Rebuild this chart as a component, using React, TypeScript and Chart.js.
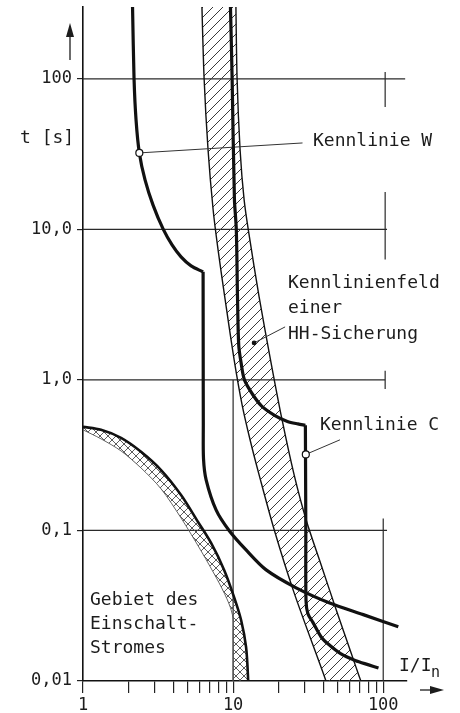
import React, { useEffect, useRef } from 'react';
import { Chart, registerables } from 'chart.js';

Chart.register(...registerables);

// ---- axes ----
const X_TICKS = [1, 2, 3, 4, 5, 6, 7, 8, 9, 10, 20, 30, 40, 50, 60, 70, 80, 90, 100];
const X_LABELLED = [1, 10, 100];
const Y_TICKS = [0.01, 0.1, 1, 10, 100];
const Y_TICK_LABELS = ['0,01', '0,1', '1,0', '10,0', '100'];
const X_MIN = 1;
const X_MAX = 144;
const Y_MIN = 0.01;
const Y_MAX = 300;

// ---- Kennlinie W ----
const W_UPPER_X = [2.12, 2.138, 2.188, 2.256, 2.373, 2.59, 2.929, 3.415, 3.92, 4.5, 5.25, 6.31];
const W_UPPER_T = [390, 300, 100, 53.4, 32.2, 21.3, 14.5, 10.08, 7.89, 6.57, 5.72, 5.22];
const W_LOWER_X = [6.31, 6.32, 6.33, 6.35, 6.61, 7.7, 9.4, 12.2, 16.6, 26.3, 43.6, 73.6, 126];
const W_LOWER_T = [5.22, 1.5, 0.5, 0.3, 0.217, 0.137, 0.1, 0.0742, 0.0547, 0.0416, 0.0331, 0.0276, 0.0229];
const W_MARK_X = [2.373];
const W_MARK_T = [32.2];
const W_LEADER_X = [2.373, 29];
const W_LEADER_T = [32.2, 37.5];

// ---- Kennlinie C ----
const C_UPPER_X = [9.5, 9.6, 9.85, 10.2, 10.5, 10.7, 10.9, 11.3, 11.9, 13.5, 15.5, 19, 23, 27, 30.3];
const C_UPPER_T = [400, 300, 100, 16, 10, 3.5, 1.7, 1.3, 1.0, 0.8, 0.67, 0.58, 0.53, 0.51, 0.5];
const C_LOWER_X = [30.3, 30.5, 30.6, 31.5, 34, 38.6, 43, 52, 65, 80, 93];
const C_LOWER_T = [0.5, 0.1, 0.034, 0.028, 0.0245, 0.0196, 0.0176, 0.0152, 0.0137, 0.0128, 0.0122];
const C_MARK_X = [30.5];
const C_MARK_T = [0.32];
const C_LEADER_X = [30.5, 51.5];
const C_LEADER_T = [0.32, 0.4];

// ---- Kennlinienfeld HH-Sicherung (band) ----
const BAND_LEFT_X = [6.15, 6.41, 6.81, 7.36, 7.94, 8.85, 10.16, 11.48, 12.98, 14.9, 18.8, 25.5, 39.8, 43.6];
const BAND_LEFT_T = [400, 100, 33.7, 13.5, 7.31, 3.41, 1.36, 0.683, 0.399, 0.234, 0.1007, 0.0385, 0.0113, 0.0087];
const BAND_RIGHT_X = [10.4, 10.63, 11.13, 11.84, 12.78, 14.9, 17.9, 21.2, 25.5, 30.7, 38.6, 48.6, 61.2, 69.2, 74.7];
const BAND_RIGHT_T = [400, 100, 33.7, 15.7, 9.19, 3.56, 1.3, 0.542, 0.234, 0.117, 0.059, 0.0297, 0.0153, 0.0107, 0.0087];
const HH_DOT_X = [13.8];
const HH_DOT_T = [1.76];
const HH_LEADER_X = [13.8, 22.2];
const HH_LEADER_T = [1.76, 2.25];

// ---- Gebiet des Einschaltstromes ----
const INRUSH_OUTER_X = [1, 1.318, 1.792, 2.436, 3.311, 4.5, 5.84, 7.13, 8.71, 10.15, 11.3, 12.2, 12.59, 12.6];
const INRUSH_OUTER_T = [0.488, 0.466, 0.412, 0.333, 0.252, 0.172, 0.1139, 0.0826, 0.0547, 0.0361, 0.0254, 0.0168, 0.0102, 0.0087];
const INRUSH_INNER_X = [1, 1.318, 1.792, 2.436, 3.311, 4.5, 6.12, 8.07, 9.4, 9.98, 10, 10, 10];
const INRUSH_INNER_T = [0.466, 0.406, 0.3375, 0.26, 0.189, 0.121, 0.0731, 0.0448, 0.0325, 0.0262, 0.0202, 0.0102, 0.0087];

const FONT = '"DejaVu Sans Mono", "Liberation Mono", monospace';
const INK = '#1c1c1c';

const pts = (xs: number[], ts: number[]) => xs.map((x, i) => ({ x, y: ts[i] }));

function makeHatch(ctx: CanvasRenderingContext2D, cross: boolean, color: string, size: number, lw: number) {
  const c = document.createElement('canvas');
  c.width = size;
  c.height = size;
  const g = c.getContext('2d')!;
  g.strokeStyle = color;
  g.lineWidth = lw;
  g.beginPath();
  g.moveTo(-1, size + 1);
  g.lineTo(size + 1, -1);
  g.moveTo(-2, 2);
  g.lineTo(2, -2);
  g.moveTo(size - 2, size + 2);
  g.lineTo(size + 2, size - 2);
  if (cross) {
    g.moveTo(-1, -1);
    g.lineTo(size + 1, size + 1);
    g.moveTo(size - 2, -2);
    g.lineTo(size + 2, 2);
    g.moveTo(-2, size - 2);
    g.lineTo(2, size + 2);
  }
  g.stroke();
  return ctx.createPattern(c, 'repeat')!;
}

const decor = {
  id: 'decor',
  beforeDatasetsDraw(chart: any) {
    const { ctx } = chart;
    const sx = chart.scales.x;
    const sy = chart.scales.y;
    const X = (v: number) => sx.getPixelForValue(v);
    const Y = (v: number) => sy.getPixelForValue(v);
    const seg = (x1: number, t1: number, x2: number, t2: number) => {
      ctx.beginPath();
      ctx.moveTo(X(x1), Y(t1));
      ctx.lineTo(X(x2), Y(t2));
      ctx.stroke();
    };
    ctx.save();
    ctx.strokeStyle = '#2a2a2a';
    ctx.lineWidth = 1.2;
    seg(1, 100, 140, 100);
    seg(1, 10, 106, 10);
    seg(1, 1, 103, 1);
    seg(1, 0.1, 106, 0.1);
    seg(10, 0.01, 10, 1);
    seg(100, 0.01, 100, 0.12);
    seg(103, 111, 103, 65);
    seg(103, 17.7, 103, 6.3);
    seg(103, 1.15, 103, 0.87);
    ctx.restore();
  },
  afterDraw(chart: any) {
    const { ctx } = chart;
    ctx.save();
    ctx.fillStyle = INK;
    ctx.strokeStyle = INK;
    ctx.textAlign = 'left';
    ctx.textBaseline = 'middle';
    ctx.font = `18px ${FONT}`;
    ctx.fillText('t [s]', 20, 138);
    ctx.fillText('Kennlinie W', 313, 141);
    ctx.fillText('Kennlinienfeld', 288, 283);
    ctx.fillText('einer', 288, 308);
    ctx.fillText('HH-Sicherung', 288, 334);
    ctx.fillText('Kennlinie C', 320, 425);
    ctx.fillText('Gebiet des', 90, 600);
    ctx.fillText('Einschalt-', 90, 624);
    ctx.fillText('Stromes', 90, 648);
    ctx.font = `18px ${FONT}`;
    ctx.fillText('I/I', 399, 666);
    ctx.font = `15px ${FONT}`;
    ctx.fillText('n', 431, 673);
    // arrows
    ctx.lineWidth = 1.3;
    ctx.beginPath();
    ctx.moveTo(70, 60);
    ctx.lineTo(70, 34);
    ctx.stroke();
    ctx.beginPath();
    ctx.moveTo(70, 23);
    ctx.lineTo(66, 37);
    ctx.lineTo(74, 37);
    ctx.closePath();
    ctx.fill();
    ctx.beginPath();
    ctx.moveTo(420, 690);
    ctx.lineTo(432, 690);
    ctx.stroke();
    ctx.beginPath();
    ctx.moveTo(444, 690);
    ctx.lineTo(430, 686);
    ctx.lineTo(430, 694);
    ctx.closePath();
    ctx.fill();
    ctx.restore();
  },
};

export default function App() {
  const ref = useRef<HTMLCanvasElement>(null);

  useEffect(() => {
    const canvas = ref.current!;
    const ctx = canvas.getContext('2d')!;
    const hatch = makeHatch(ctx, false, '#3a3a3a', 10, 1);
    const crossHatch = makeHatch(ctx, true, '#4a4a4a', 8, 0.9);

    const line = (data: any[], width: number, order: number, extra: any = {}) => ({
      data,
      borderColor: '#111',
      borderWidth: width,
      pointRadius: 0,
      pointHoverRadius: 0,
      fill: false,
      tension: 0.3,
      capBezierPoints: false,
      order,
      ...extra,
    });

    const bandPoly = [...pts(BAND_LEFT_X, BAND_LEFT_T), ...pts(BAND_RIGHT_X, BAND_RIGHT_T).reverse()];
    const inrushPoly = [...pts(INRUSH_OUTER_X, INRUSH_OUTER_T), ...pts(INRUSH_INNER_X, INRUSH_INNER_T).reverse()];

    const marker = (data: any[], r: number, bg: string) => ({
      data,
      showLine: false,
      pointRadius: r,
      pointHoverRadius: r,
      pointBackgroundColor: bg,
      pointBorderColor: '#111',
      pointBorderWidth: 1.2,
      order: 0,
    });

    const chart = new Chart(canvas, {
      type: 'line',
      data: {
        datasets: [
          marker(pts(W_MARK_X, W_MARK_T), 3.5, '#fff'),
          marker(pts(C_MARK_X, C_MARK_T), 3.5, '#fff'),
          marker(pts(HH_DOT_X, HH_DOT_T), 1.8, '#111'),
          line(pts(W_UPPER_X, W_UPPER_T), 3.2, 1),
          line(pts(W_LOWER_X, W_LOWER_T), 3.2, 1),
          line(pts(C_UPPER_X, C_UPPER_T), 3.2, 1),
          line(pts(C_LOWER_X, C_LOWER_T), 3.2, 1),
          line(pts(INRUSH_OUTER_X, INRUSH_OUTER_T), 2.6, 1),
          line(pts(W_LEADER_X, W_LEADER_T), 1, 4, { tension: 0, borderColor: '#333' }),
          line(pts(C_LEADER_X, C_LEADER_T), 1, 4, { tension: 0, borderColor: '#333' }),
          line(pts(HH_LEADER_X, HH_LEADER_T), 1, 4, { tension: 0, borderColor: '#333' }),
          line(pts(BAND_LEFT_X, BAND_LEFT_T), 1.4, 5),
          line(pts(BAND_RIGHT_X, BAND_RIGHT_T), 1.4, 5),
          line(pts(INRUSH_INNER_X, INRUSH_INNER_T), 0.9, 5, { borderColor: '#555' }),
          line(bandPoly, 0, 10, { borderColor: 'transparent', backgroundColor: hatch, fill: 'shape' }),
          line(inrushPoly, 0, 10, { borderColor: 'transparent', backgroundColor: crossHatch, fill: 'shape' }),
        ],
      },
      options: {
        animation: false,
        responsive: true,
        maintainAspectRatio: false,
        layout: { padding: { left: 0, top: 7, right: 53, bottom: 0 } },
        plugins: { legend: { display: false }, tooltip: { enabled: false } },
        events: [],
        scales: {
          x: {
            type: 'logarithmic',
            min: X_MIN,
            max: X_MAX,
            afterBuildTicks: (s: any) => {
              s.ticks = X_TICKS.map((v) => ({ value: v }));
            },
            afterFit: (s: any) => {
              s.height = 32;
              s.paddingLeft = 0;
              s.paddingRight = 0;
            },
            ticks: {
              autoSkip: false,
              maxRotation: 0,
              padding: 2,
              color: INK,
              font: { family: FONT, size: 17 },
              callback: (v: any) => (X_LABELLED.includes(Number(v)) ? String(v) : ''),
            },
            grid: { drawOnChartArea: false, drawTicks: true, tickLength: 12, color: '#222', lineWidth: 1.2 },
            border: { display: true, color: '#111', width: 1.6 },
          },
          y: {
            type: 'logarithmic',
            min: Y_MIN,
            max: Y_MAX,
            afterBuildTicks: (s: any) => {
              s.ticks = Y_TICKS.map((v) => ({ value: v }));
            },
            afterFit: (s: any) => {
              s.width = 83;
              s.paddingTop = 0;
              s.paddingBottom = 0;
            },
            ticks: {
              autoSkip: false,
              padding: 5,
              color: INK,
              font: { family: FONT, size: 17 },
              callback: (v: any) => {
                const i = Y_TICKS.findIndex((t) => Math.abs(t - Number(v)) / t < 1e-6);
                return i >= 0 ? Y_TICK_LABELS[i] : '';
              },
            },
            grid: { drawOnChartArea: false, drawTicks: true, tickLength: 6, color: '#222', lineWidth: 1.2 },
            border: { display: true, color: '#111', width: 1.6 },
          },
        },
      } as any,
      plugins: [decor],
    });
    return () => chart.destroy();
  }, []);

  return (
    <div style={{ position: 'absolute', left: 0, top: 0, width: 460, height: 713 }}>
      <canvas ref={ref} />
    </div>
  );
}
